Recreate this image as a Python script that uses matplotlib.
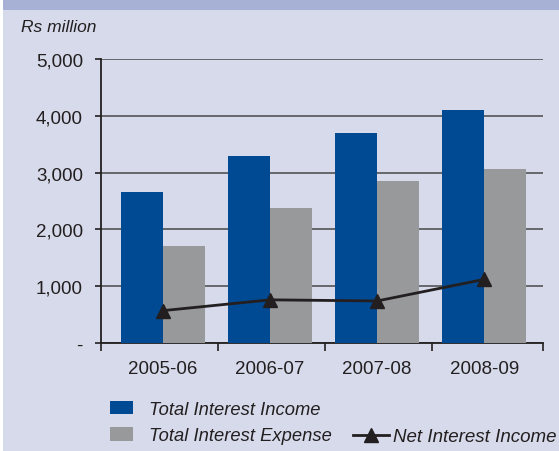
import matplotlib
matplotlib.use("Agg")
import matplotlib.pyplot as plt
from matplotlib.patches import Patch, Rectangle
from matplotlib.lines import Line2D
from matplotlib.ticker import FuncFormatter, FixedLocator
import numpy as np

plt.rcParams['font.family'] = ['Liberation Sans', 'DejaVu Sans']

# Data (Rs million)
years = ["2005-06", "2006-07", "2007-08", "2008-09"]
total_interest_income = [2650, 3290, 3700, 4100]
total_interest_expense = [1710, 2380, 2850, 3060]
net_interest_income = [570, 760, 740, 1120]

BLUE = "#004a93"
GREY = "#98999b"
INK = "#231f20"
BG = "#d6daea"
BAND = "#a7b1d5"
FS = 13.5

fig = plt.figure(figsize=(5.59, 4.52), dpi=100, facecolor=BG)

# header band and thin white margin on the left
fig.add_artist(Rectangle((0, 1 - 11 / 452), 1, 11 / 452, transform=fig.transFigure,
                         facecolor=BAND, edgecolor="none", zorder=0))
fig.add_artist(Rectangle((0, 0), 3 / 559, 1, transform=fig.transFigure,
                         facecolor="white", edgecolor="none", zorder=0))

ax = fig.add_axes([101 / 559, 1 - 344 / 452, (543 - 101) / 559, (344 - 60) / 452])
ax.set_facecolor(BG)

x = np.arange(len(years))
w = 0.394
ax.bar(x - w / 2, total_interest_income, width=w, color=BLUE, zorder=3)
ax.bar(x + w / 2, total_interest_expense, width=w, color=GREY, zorder=3)
ax.plot(x, net_interest_income, color=INK, lw=2.0, marker="^", markersize=10, zorder=4)

x0, x1 = -0.58, len(years) - 0.45
ax.set_xlim(x0, x1)
ax.set_ylim(0, 5000)

ax.yaxis.set_major_locator(FixedLocator([0, 1000, 2000, 3000, 4000, 5000]))
ax.yaxis.set_major_formatter(FuncFormatter(lambda v, p: "-" if v == 0 else f"{int(v):,}"))
ax.grid(axis="y", color="#5e5f61", lw=1.3, zorder=1)
ax.set_axisbelow(True)

ax.set_xticks(x)
ax.set_xticklabels(years)
ax.set_xticks([x0] + list(np.arange(1, len(years)) - 0.49) + [x1], minor=True)
ax.tick_params(axis="x", which="major", length=0, pad=12, labelsize=FS, colors=INK)
ax.tick_params(axis="x", which="minor", length=6, width=1.2, color=INK)
ax.tick_params(axis="y", length=4, width=1.2, pad=9, labelsize=FS, colors=INK)

for s in ["top", "right"]:
    ax.spines[s].set_visible(False)
for s in ["left", "bottom"]:
    ax.spines[s].set_color(INK)
    ax.spines[s].set_linewidth(1.3)

fig.text(21 / 559, 1 - 27 / 452, "Rs million", fontsize=12.5, style="italic",
         color=INK, va="center", ha="left")

# legends
h_inc = Patch(facecolor=BLUE, edgecolor="none", label="Total Interest Income")
h_exp = Patch(facecolor=GREY, edgecolor="none", label="Total Interest Expense")
h_net = Line2D([], [], color=INK, lw=2.0, marker="^", markersize=10, label="Net Interest Income")

leg1 = fig.legend(handles=[h_inc, h_exp], loc="upper left",
                  bbox_to_anchor=(110 / 559, 1 - 402 / 452), frameon=False,
                  prop={"size": 13.2, "style": "italic"}, handlelength=1.25,
                  handleheight=0.75, handletextpad=0.9, labelspacing=0.5,
                  borderaxespad=0, borderpad=0)
for t in leg1.get_texts():
    t.set_color(INK)
leg2 = fig.legend(handles=[h_net], loc="upper left",
                  bbox_to_anchor=(353 / 559, 1 - 429 / 452), frameon=False,
                  prop={"size": FS, "style": "italic"}, handlelength=1.9,
                  handletextpad=0.25, borderaxespad=0, borderpad=0)
for t in leg2.get_texts():
    t.set_color(INK)

fig.savefig("out.png", dpi=100, facecolor=BG)
